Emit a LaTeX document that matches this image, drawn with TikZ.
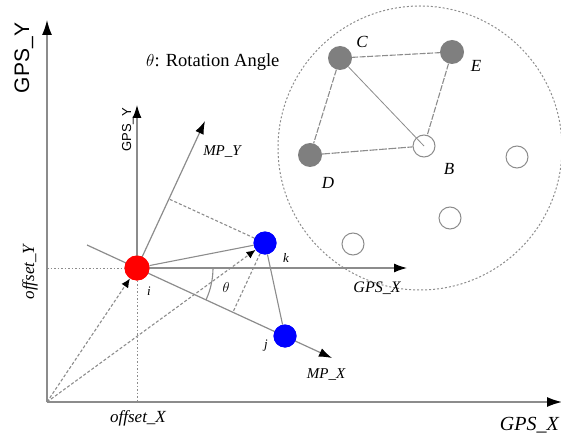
\documentclass[tikz,border=0pt]{standalone}
\usepackage{fontspec}
\setmainfont{Liberation Serif}
\setsansfont{Liberation Sans}
\usetikzlibrary{arrows.meta}
\definecolor{ln}{HTML}{8C8C8C}
\definecolor{nodegray}{HTML}{7F7F7F}
\tikzset{
  axisline/.style={draw=ln, line width=1.4pt, -{Latex[black,length=15pt,width=10pt]}},
  midaxis/.style={draw=ln, line width=1.2pt, -{Latex[black,length=13pt,width=9pt]}},
  thin line/.style={draw=ln, line width=1.1pt},
  dashline/.style={draw=ln, line width=1.1pt, dash pattern=on 3pt off 2pt},
  dotline/.style={draw=ln, line width=1pt, dash pattern=on 1.5pt off 2pt},
  vec/.style={draw=ln, line width=1.1pt, dash pattern=on 3pt off 2pt, -{Latex[black,length=9pt,width=8pt]}},
  fullnode/.style={circle, fill=nodegray, minimum size=24pt, inner sep=0pt},
  opennode/.style={circle, draw=ln, fill=white, line width=1pt, minimum size=22pt, inner sep=0pt},
  lab/.style={font=\fontsize{17}{17}\selectfont\itshape, inner sep=0pt},
  smalllab/.style={font=\fontsize{13}{13}\selectfont\itshape, inner sep=0pt},
}
\begin{document}
\begin{tikzpicture}[x=1pt,y=-1pt]
\useasboundingbox (0,0) rectangle (561,438);
% coordinates
\coordinate (O) at (47,402);
\coordinate (Ytip) at (47,20);
\coordinate (Xtip) at (562,402);
\coordinate (offY) at (47,268);
\coordinate (offX) at (137,402);
\coordinate (gyTip) at (137,105);
\coordinate (gxTip) at (407,268);
\coordinate (mxStart) at (87,245);
\coordinate (mxTip) at (332,358);
\coordinate (myTip) at (205,121);
\coordinate (footX) at (233,312);
\coordinate (footY) at (169,199);
% dashed region circle
\draw[draw=ln, line width=1pt, dash pattern=on 2pt off 2pt] (420,148) circle[radius=142];
% big axes
\draw[axisline] (O) -- (Ytip);
\draw[axisline] (O) -- (Xtip);
% nodes
\node[circle, fill=red, minimum size=25pt, inner sep=0pt] (i) at (137,268) {};
\node[circle, fill=blue, minimum size=23pt, inner sep=0pt] (k) at (265,243) {};
\node[circle, fill=blue, minimum size=23pt, inner sep=0pt] (j) at (285,336) {};
% offsets
\draw[dotline] (offY) -- (i);
\draw[dotline] (i) -- (offX);
% local axes
\draw[midaxis] (i.center) -- (gyTip);
\draw[midaxis] (i.center) -- (gxTip);
\draw[midaxis] (i.center) -- (myTip);
\draw[midaxis] (mxStart) -- (mxTip);
% projections
\draw[dashline] (k) -- (footX);
\draw[dashline] (k) -- (footY);
% vectors from origin
\draw[vec] (O) -- (i);
\draw[vec] (O) -- (k);
\draw[thin line] (i) -- (k);
\draw[thin line] (k) -- (j);
% angle arc
\draw[thin line] (213,268) arc[start angle=0, end angle=24.7, radius=76];
% redraw nodes on top
\node[circle, fill=red, minimum size=25pt, inner sep=0pt] at (i) {};
\node[circle, fill=blue, minimum size=23pt, inner sep=0pt] at (k) {};
\node[circle, fill=blue, minimum size=23pt, inner sep=0pt] at (j) {};
% graph in the circle
\node[fullnode] (C) at (340,58) {};
\node[fullnode] (E) at (452,52) {};
\node[fullnode] (D) at (310,155) {};
\node[opennode] (B) at (424,146) {};
\node[opennode] (n1) at (517,157) {};
\node[opennode] (n2) at (450,218) {};
\node[opennode] (n3) at (353,244) {};
\draw[dashline, dash pattern=on 6pt off 1.5pt] (C) -- (E);
\draw[dashline, dash pattern=on 6pt off 1.5pt] (C) -- (D);
\draw[dashline, dash pattern=on 6pt off 1.5pt] (E) -- (B);
\draw[dashline, dash pattern=on 8pt off 1.5pt] (D) -- (B);
\draw[draw=ln, line width=0.8pt] (C) -- (B.center);
% labels
\node[lab] (lC) at (362,42) {C};
\node[lab] (lE) at (476,66) {E};
\node[lab] (lD) at (328,183) {D};
\node[lab] (lB) at (449,169) {B};
\node[smalllab] (li) at (149,291) {i};
\node[smalllab] (lk) at (286,258) {k};
\node[smalllab] (lj) at (266,346) {j};
\node[font=\fontsize{15}{15}\selectfont\itshape, inner sep=0pt] (lth) at (226,287) {$\theta$};
\node[font=\fontsize{18.5}{18.5}\selectfont, inner sep=0pt, anchor=west] (title) at (146,62) {$\theta$: Rotation Angle};
\node[font=\fontsize{21}{21}\selectfont\sffamily, rotate=90, inner sep=0pt] (bigY) at (24,58) {GPS\_Y};
\node[font=\fontsize{13}{13}\selectfont\sffamily, rotate=90, inner sep=0pt] (smY) at (128,130) {GPS\_Y};
\node[font=\fontsize{20}{20}\selectfont\itshape, inner sep=0pt, anchor=east] (bigX) at (559,425) {GPS\_X};
\node[font=\fontsize{16}{16}\selectfont\itshape, inner sep=0pt] (smX) at (377,288) {GPS\_X};
\node[font=\fontsize{15}{15}\selectfont\itshape, inner sep=0pt] (lmx) at (326,375) {MP\_X};
\node[font=\fontsize{15}{15}\selectfont\itshape, inner sep=0pt] (lmy) at (222,152) {MP\_Y};
\node[font=\fontsize{17}{17}\selectfont\itshape, inner sep=0pt] (lox) at (138,418) {offset\_X};
\node[font=\fontsize{17}{17}\selectfont\itshape, rotate=90, inner sep=0pt] (loy) at (30,272) {offset\_Y};
\end{tikzpicture}
\end{document}
